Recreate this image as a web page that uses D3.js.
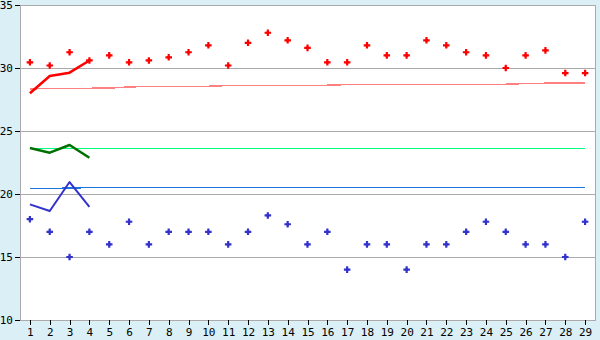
<!DOCTYPE html>
<html>
<head>
<meta charset="utf-8">
<script src="https://cdn.jsdelivr.net/npm/d3@7"></script>
<style>
  body{margin:0;background:#daeff6;}
  svg{display:block;}
  text{font-family:"DejaVu Sans Mono",monospace;font-size:11px;fill:#000;}
</style>
</head>
<body>
<svg></svg>
<script>
let days=d3.range(1,30)
let yTicks=[10,15,20,25,30,35]
let gridValues=[15,20,25,30]

// daily readings
let redPoints=[30.45,30.2,31.25,30.6,31.0,30.45,30.6,30.85,31.25,31.8,30.2,32.0,32.8,32.2,31.6,30.45,30.45,31.8,31.0,31.0,32.2,31.8,31.25,31.0,30.0,31.0,31.4,29.6,29.6]
let bluePoints=[18.0,17.0,15.0,17.0,16.0,17.8,16.0,17.0,17.0,17.0,16.0,17.0,18.3,17.6,16.0,17.0,14.0,16.0,16.0,14.0,16.0,16.0,17.0,17.8,17.0,16.0,16.0,15.0,17.8]

// first days lines
let redLine=[28.0,29.37,29.63,30.6]
let greenLine=[23.65,23.28,23.89,22.88]
let blueLine=[19.18,18.65,20.95,18.97]

// average lines
let redAvg=[28.33,28.39,28.39,28.39,28.41,28.49,28.55,28.55,28.55,28.55,28.61,28.63,28.63,28.63,28.63,28.63,28.69,28.71,28.71,28.71,28.71,28.71,28.71,28.71,28.71,28.77,28.79,28.79,28.79]
let greenAvg=days.map(()=>23.63)
let blueAvg=[20.45,20.45,20.46,20.52,20.53,20.53,20.53,20.53,20.53,20.53,20.53,20.53,20.53,20.53,20.53,20.53,20.53,20.53,20.53,20.53,20.53,20.53,20.53,20.53,20.53,20.53,20.53,20.53,20.53]

let width=600
let height=340
let plotLeft=20, plotRight=595, plotTop=5, plotBottom=320

let svg=d3.select('svg').attr('width',width).attr('height',height)

let xScale=d3.scalePoint().domain(days).range([plotLeft,plotRight]).padding(0.5)
let yScale=d3.scaleLinear().domain([10,35]).range([plotBottom,plotTop])

svg.append('rect')
    .attr('x',plotLeft).attr('y',plotTop)
    .attr('width',plotRight-plotLeft).attr('height',plotBottom-plotTop)
    .attr('fill','#fff')
    .attr('stroke','#aaa')
    .attr('shape-rendering','crispEdges')

svg.selectAll('.grid')
    .data(gridValues)
    .enter()
    .append('line')
    .attr('class','grid')
    .attr('x1',plotLeft).attr('x2',plotRight)
    .attr('y1',d=>yScale(d)).attr('y2',d=>yScale(d))
    .attr('stroke','#aaa')
    .attr('shape-rendering','crispEdges')

let xAxis=d3.axisBottom(xScale).tickSize(5).tickSizeOuter(0).tickPadding(3)
let yAxis=d3.axisLeft(yScale).tickValues(yTicks).tickSize(5).tickSizeOuter(0).tickPadding(2)

let gx=svg.append('g')
    .attr('transform','translate(0,'+plotBottom+')')
    .call(xAxis)
gx.select('.domain').attr('stroke','#aaa').attr('shape-rendering','crispEdges')
gx.selectAll('.tick line').attr('stroke','#000').attr('shape-rendering','crispEdges')
gx.selectAll('text').style('font-size','11px').style('font-family','DejaVu Sans Mono')

let gy=svg.append('g')
    .attr('transform','translate('+plotLeft+',0)')
    .call(yAxis)
gy.select('.domain').attr('stroke','#aaa').attr('shape-rendering','crispEdges')
gy.selectAll('.tick line').attr('stroke','#000').attr('shape-rendering','crispEdges')
gy.selectAll('text').style('font-size','11px').style('font-family','DejaVu Sans Mono')

let line=d3.line()
    .x((d,i)=>xScale(days[i]))
    .y(d=>yScale(d))

let drawLine=(values,color,w,crisp)=>{
    svg.append('path')
        .datum(values)
        .attr('d',line)
        .attr('fill','none')
        .attr('stroke',color)
        .attr('stroke-width',w)
        .attr('stroke-linejoin','round')
        .attr('shape-rendering',crisp?'crispEdges':'auto')
}

drawLine(redAvg,'#ff8080',1.5,true)
drawLine(greenAvg,'#00ff80',1.5,true)
drawLine(blueAvg,'#1a73e0',1.5,true)

drawLine(redLine,'#ff0000',2.5,false)
drawLine(greenLine,'#007000',2.5,false)
drawLine(blueLine,'#3333cc',2,false)

let cross=d3.symbol().type(d3.symbolCross).size(24)
let dot=d3.symbol().type(d3.symbolSquare).size(7)

let drawPoints=(values,color)=>{
    let g=svg.append('g')
    g.selectAll('.cross')
        .data(values)
        .enter()
        .append('path')
        .attr('class','cross')
        .attr('d',cross)
        .attr('transform',(d,i)=>'translate('+xScale(days[i])+','+yScale(d)+')')
        .attr('fill',color)
    g.selectAll('.dot')
        .data(values)
        .enter()
        .append('path')
        .attr('class','dot')
        .attr('d',dot)
        .attr('transform',(d,i)=>'translate('+xScale(days[i])+','+yScale(d)+')')
        .attr('fill',color)
}

drawPoints(redPoints,'#ff0000')
drawPoints(bluePoints,'#3333cc')
</script>
</body>
</html>
